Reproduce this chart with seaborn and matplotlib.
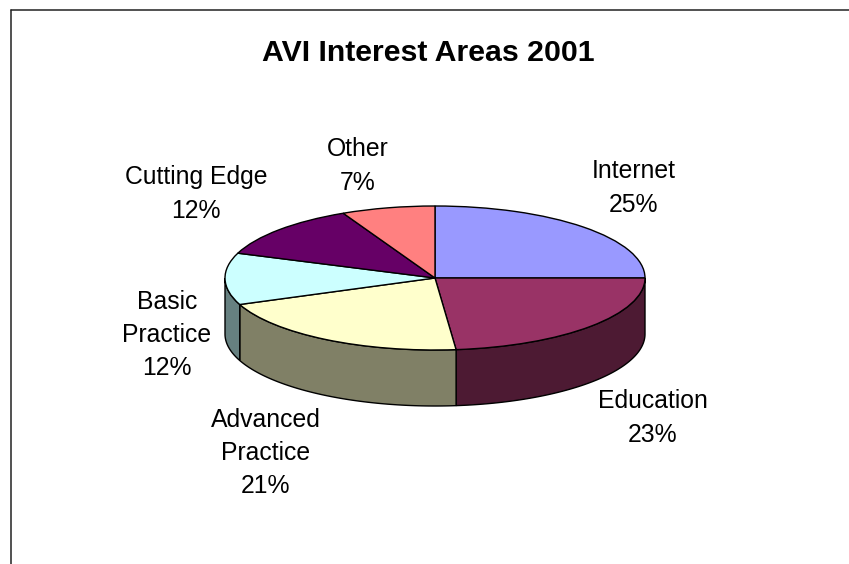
import numpy as np
import matplotlib
matplotlib.use("Agg")
import matplotlib.pyplot as plt
from matplotlib.lines import Line2D
import seaborn as sns

# --- Data ---
labels = ["Internet", "Education", "Advanced\nPractice", "Basic\nPractice", "Cutting Edge", "Other"]
values = [25.0, 23.4, 20.6, 11.6, 12.2, 7.2]  # labels on the chart are rounded
top_colors = ["#9999ff", "#993366", "#ffffcc", "#ccffff", "#660066", "#ff8080"]
side_colors = ["#4d4d80", "#4d1a33", "#808066", "#668080", "#330033", "#804040"]
title = "AVI Interest Areas 2001"

# label centres in pixels, same order as labels
label_pos = [(634, 188), (653, 418), (266, 453), (167, 335), (196, 194), (358, 166)]

W, H = 849, 564
DEPTH = 56 / 72  # wall height, in units of the squashed radius
RX, RY = 210, 72
CX, CY = 435, 278

sns.set_theme(style="white")
plt.rcParams["font.family"] = ["Liberation Sans", "DejaVu Sans"]

fig = plt.figure(figsize=(W / 100, H / 100), dpi=100, facecolor="white")

# axes spans the pie footprint so the circle gets squashed to an ellipse
left = (CX - RX) / W
bottom = 1 - (CY + RY + DEPTH * RY) / H
ax = fig.add_axes([left, bottom, 2 * RX / W, (2 + DEPTH) * RY / H])

# --- Side wall: only the front half of the rim shows ---
fracs = np.array(values) / sum(values)
ends = 90 - 360 * np.cumsum(fracs)
starts = np.r_[90, ends[:-1]]
for a0, a1, col in zip(starts, ends, side_colors):
    # visible rim runs from 0 down to -180 degrees
    hi, lo = min(a0, 0), max(a1, -180)
    if hi <= lo:
        continue
    t = np.radians(np.linspace(hi, lo, 80))
    x = np.r_[np.cos(t), np.cos(t)[::-1]]
    y = np.r_[np.sin(t), np.sin(t)[::-1] - DEPTH]
    ax.fill(x, y, facecolor=col, edgecolor="black", linewidth=1, clip_on=False, zorder=1)

# --- Top face ---
wedges, _ = ax.pie(
    values,
    colors=top_colors,
    startangle=90,
    counterclock=False,
    wedgeprops={"edgecolor": "black", "linewidth": 1, "clip_on": False, "zorder": 2},
)
ax.set_aspect("auto")
ax.set_box_aspect(None)
ax.set_xlim(-1, 1)
ax.set_ylim(-1 - DEPTH, 1)
ax.axis("off")

# --- Text ---
fig.text(428 / W, 1 - 53 / H, title, ha="center", va="center",
         fontsize=21.8, fontweight="bold", color="black")
for lab, val, (px, py) in zip(labels, values, label_pos):
    fig.text(px / W, 1 - py / H, f"{lab}\n{val:.0f}%", ha="center", va="center",
             fontsize=17.8, color="black", linespacing=1.49, multialignment="center")

# chart frame: only top and left edges fall inside the crop
fig.add_artist(Line2D([10.5 / W, 1], [1 - 9.5 / H, 1 - 9.5 / H], color="#222222", lw=1.1))
fig.add_artist(Line2D([10.5 / W, 10.5 / W], [0, 1 - 9.5 / H], color="#222222", lw=1.1))

fig.savefig("out.png", dpi=100)
